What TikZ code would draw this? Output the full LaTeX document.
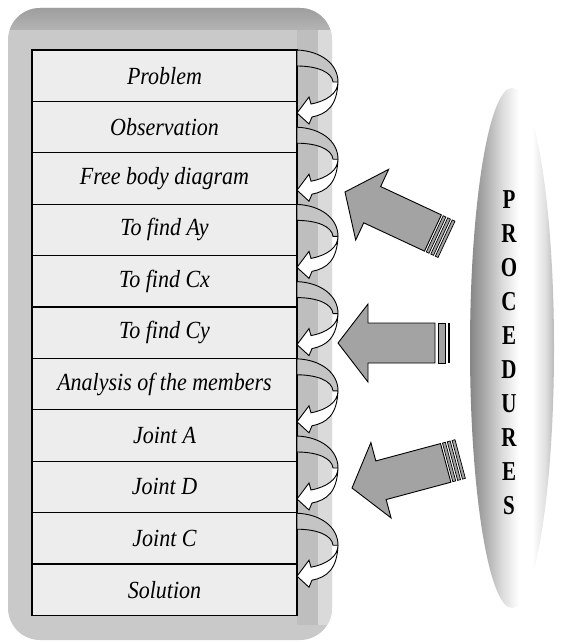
\documentclass[tikz,border=0pt]{standalone}
\usepackage{fontspec}
\setmainfont{Liberation Serif}
\usepackage{graphicx}
\definecolor{panel}{HTML}{C9C9C9}
\definecolor{topband}{HTML}{9E9E9E}
\definecolor{topband2}{HTML}{B4B4B4}
\definecolor{stripA}{HTML}{BEBEBE}
\definecolor{stripB}{HTML}{DADADA}
\definecolor{boxfill}{HTML}{EDEDED}
\definecolor{backband}{HTML}{C4C4C4}
\definecolor{arrowgray}{HTML}{A3A3A3}
\pgfdeclarehorizontalshading{ellsh}{100bp}{color(0bp)=(gray!95); color(25bp)=(gray!95); color(34bp)=(gray!65); color(44bp)=(gray!28); color(54bp)=(white); color(62bp)=(white); color(70bp)=(gray!25); color(75bp)=(gray!55); color(100bp)=(gray!55)}
\tikzset{
  rowbox/.style={draw=black, line width=1.1pt, fill=boxfill, minimum width=265pt, minimum height=51.4pt, inner sep=0pt, font=\fontsize{22}{26}\selectfont\itshape},
  letter/.style={inner sep=0pt, font=\fontsize{21}{23}\selectfont\bfseries},
  bigarrow/.style={fill=arrowgray, draw=black, line width=0.9pt, line join=miter},
  barstyle/.style={fill=arrowgray, draw=black, line width=0.7pt},
  bandback/.style={fill=backband, draw=black, line width=0.9pt},
  bandfront/.style={fill=white, draw=black, line width=0.9pt, line join=miter},
}
\begin{document}
\begin{tikzpicture}[x=1pt,y=-1pt]
\useasboundingbox (0,0) rectangle (562,642);
% panel
\fill[panel, rounded corners=32pt] (8,8) rectangle (332,640);
\begin{scope}
  \clip[rounded corners=32pt] (8,8) rectangle (332,640);
  \shade[top color=topband, bottom color=topband2] (8,8) rectangle (332,30);
  \fill[stripA] (297,30) rectangle (318,625);
  \fill[stripB] (318,30) rectangle (332,625);
\end{scope}
% rows
\foreach \t [count=\i] in {Problem, Observation, Free body diagram, To find Ay, To find Cx, To find Cy, Analysis of the members, Joint A, Joint D, Joint C, Solution}
  \node[rowbox] (r\i) at (164.5, {50+51.4*(\i-0.5)}) {\scalebox{1}[1.12]{\t}};
% curved arrows
\foreach \s in {50,127.2,204.4,281.6,358.8,436,513.2} {
  \begin{scope}[shift={(297,\s)}]
    \draw[bandback] (0,0) .. controls (24,1) and (41,14) .. (41,32) -- (36,32) .. controls (35,22) and (20,16) .. (0,16) -- cycle;
    \draw[bandfront] (41,32) .. controls (41,43) and (30,51) .. (14,54) -- (12,47) -- (0,63) -- (12,74) -- (15,67) .. controls (30,64) and (40,56) .. (41,32) -- cycle;
  \end{scope}
}
% big arrows
\begin{scope}[shift={(345,192)}, rotate=-25]
  \draw[bigarrow] (0,0) -- (30,-39) -- (30,-20) -- (97,-20) -- (97,20) -- (30,20) -- (30,39) -- cycle;
  \draw[barstyle] (99,-20) rectangle (102,20);
  \draw[barstyle] (104,-20) rectangle (107,20);
  \draw[barstyle] (109,-20) rectangle (112,20);
\end{scope}
\begin{scope}[shift={(338,343)}]
  \draw[bigarrow] (0,0) -- (30,-39) -- (30,-20) -- (97,-20) -- (97,20) -- (30,20) -- (30,39) -- cycle;
  \draw[barstyle] (100,-20) rectangle (107,20);
  \fill[black] (109.5,-20) rectangle (112,20);
\end{scope}
\begin{scope}[shift={(352,488)}, rotate=15]
  \draw[bigarrow] (0,0) -- (30,-39) -- (30,-20) -- (97,-20) -- (97,20) -- (30,20) -- (30,39) -- cycle;
  \draw[barstyle] (99,-20) rectangle (102,20);
  \draw[barstyle] (104,-20) rectangle (107,20);
  \draw[barstyle] (109,-20) rectangle (112,20);
\end{scope}
% ellipse
\shade[shading=ellsh] (512,348) ellipse [x radius=42, y radius=260];
\foreach \l [count=\i] in {P,R,O,C,E,D,U,R,E,S}
  \node[letter] (l\i) at (509, {200+33.9*(\i-1)}) {\scalebox{1}[1.3]{\l}};
\end{tikzpicture}
\end{document}
